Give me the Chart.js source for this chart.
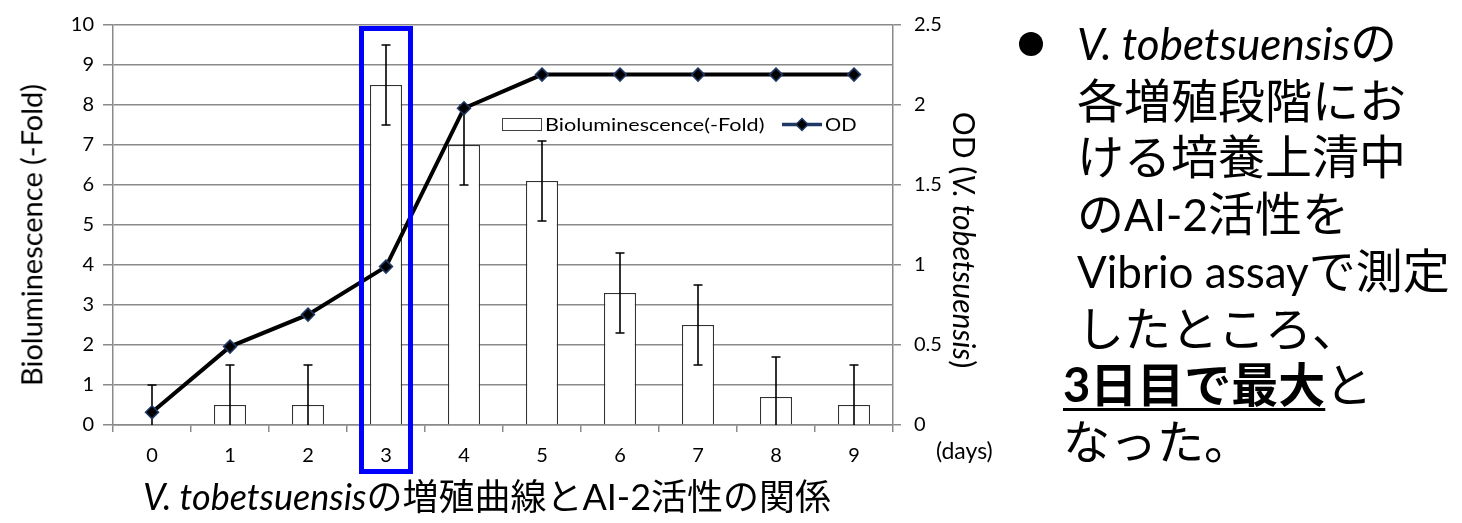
<!DOCTYPE html>
<html>
<head>
<meta charset="utf-8">
<script src="https://cdn.jsdelivr.net/npm/chart.js@4.4.1/dist/chart.umd.min.js"></script>
<style>
  html, body { margin:0; padding:0; background:#fff; overflow:hidden; }
  #wrap { position:relative; width:1462px; height:523px; background:#fff;
          font-family: Lato, "Noto Sans CJK JP", sans-serif; color:#000; }
  #c { position:absolute; left:0; top:0; }
  .t { position:absolute; white-space:nowrap; line-height:1.15; }
  .rot { transform: translate(-50%,-50%) rotate(-90deg); }
  .rotR { transform: translate(-50%,-50%) rotate(90deg); }
  #panel { position:absolute; left:1077px; top:14px; font-size:47px; line-height:56.5px; white-space:nowrap; }
  #panel .lat { font-size:44px; }
  #panel .out { margin-left:-14px; }
  #panel u { text-decoration-thickness:3px; text-underline-offset:6px; }
  #bullet { position:absolute; left:1019px; top:32px; width:24px; height:24px; border-radius:50%; background:#000; }
</style>
</head>
<body>
<div id="wrap">
  <canvas id="c" width="1462" height="523"></canvas>
  <div class="t rot" style="left:31px; top:235px; font-size:29px;">Bioluminescence (-Fold)</div>
  <div class="t rotR" style="left:965px; top:240px; font-size:30px;">OD (<i>V. tobetsuensis</i>)</div>
  <div class="t" style="left:936px; top:437px; font-size:23px;">(days)</div>
  <div class="t" style="left:143px; top:476px; font-size:36px; line-height:40px;"><i>V. tobetsuensis</i>の増殖曲線とAI-2活性の関係</div>
  <div id="bullet"></div>
  <div id="panel">
    <div><i class="lat">V. tobetsuensis</i>の</div>
    <div>各増殖段階にお</div>
    <div>ける培養上清中</div>
    <div>の<span class="lat">AI-2</span>活性を</div>
    <div><span class="lat">Vibrio assay</span>で測定</div>
    <div>したところ、</div>
    <div class="out"><b><u>3日目で最大</u></b>と</div>
    <div class="out">なった。</div>
  </div>
</div>
<script>
// ---- data ----
const days = ['0','1','2','3','4','5','6','7','8','9'];
const bioluminescence = [0, 0.5, 0.5, 8.5, 7.0, 6.1, 3.3, 2.5, 0.7, 0.5];
const bioluminescenceErr = [1, 1, 1, 1, 1, 1, 1, 1, 1, 1];
const od = [0.08, 0.49, 0.69, 0.99, 1.98, 2.19, 2.19, 2.19, 2.19, 2.19];
const leftTicks = [0,1,2,3,4,5,6,7,8,9,10];
const rightTicks = [0,0.5,1,1.5,2,2.5];
const rightTickLabels = ['0','0.5','1','1.5','2','2.5'];
const highlightDay = '3';
const legendLabels = ['Bioluminescence(-Fold)', 'OD'];

Chart.defaults.font.family = "Lato, 'Noto Sans CJK JP', sans-serif";
Chart.defaults.color = '#000';

const GRID = '#8a8a8a';

const errorBars = {
  id: 'errorBars',
  afterDatasetDraw(chart, args) {
    if (args.index !== 0) return;
    const {ctx, chartArea} = chart;
    const y = chart.scales.y;
    const meta = chart.getDatasetMeta(0);
    ctx.save();
    ctx.beginPath();
    ctx.rect(chartArea.left, chartArea.top - 2, chartArea.right - chartArea.left, chartArea.bottom - chartArea.top + 2);
    ctx.clip();
    ctx.strokeStyle = '#000';
    ctx.lineWidth = 1.6;
    meta.data.forEach((bar, i) => {
      const v = bioluminescence[i], e = bioluminescenceErr[i];
      const x = bar.x;
      const yt = y.getPixelForValue(v + e);
      const yb = y.getPixelForValue(v - e);
      ctx.beginPath();
      ctx.moveTo(x, yt); ctx.lineTo(x, yb);
      ctx.moveTo(x - 4.5, yt); ctx.lineTo(x + 4.5, yt);
      ctx.moveTo(x - 4.5, yb); ctx.lineTo(x + 4.5, yb);
      ctx.stroke();
    });
    ctx.restore();
  }
};

const overlay = {
  id: 'overlay',
  afterDraw(chart) {
    const {ctx, chartArea} = chart;
    const xs = chart.scales.x;
    // legend
    const lx = chartArea.left + 389, ly = chartArea.top + 99.5;
    ctx.save();
    ctx.fillStyle = '#fff';
    ctx.strokeStyle = '#404040';
    ctx.lineWidth = 1;
    ctx.fillRect(lx + 0.5, ly - 6, 39, 12);
    ctx.strokeRect(lx + 0.5, ly - 6, 39, 12);
    ctx.fillStyle = '#000';
    ctx.font = "18px Lato, 'Noto Sans CJK JP', sans-serif";
    ctx.textBaseline = 'middle';
    ctx.textAlign = 'left';
    ctx.save();
    ctx.translate(lx + 43, ly + 0.5);
    ctx.scale(1.2, 1);
    ctx.fillText(legendLabels[0], 0, 0);
    ctx.restore();
    // OD legend line + diamond
    const ox = lx + 280;
    ctx.strokeStyle = '#1F3864';
    ctx.lineWidth = 3.5;
    ctx.beginPath(); ctx.moveTo(ox, ly); ctx.lineTo(ox + 40, ly); ctx.stroke();
    ctx.beginPath();
    ctx.moveTo(ox + 20 - 6, ly); ctx.lineTo(ox + 20, ly - 6); ctx.lineTo(ox + 26, ly); ctx.lineTo(ox + 20, ly + 6); ctx.closePath();
    ctx.fillStyle = '#000'; ctx.fill();
    ctx.lineWidth = 1.5; ctx.stroke();
    ctx.save();
    ctx.translate(ox + 43, ly + 0.5);
    ctx.scale(1.12, 1);
    ctx.fillStyle = '#000';
    ctx.fillText(legendLabels[1], 0, 0);
    ctx.restore();
    // highlight box around day 3
    const cx = xs.getPixelForValue(days.indexOf(highlightDay));
    const cw = (chartArea.right - chartArea.left) / days.length;
    const hw = cw * 0.314;
    ctx.strokeStyle = '#0000FF';
    ctx.lineWidth = 5;
    ctx.strokeRect(cx - hw, chartArea.top + 3.5, 2 * hw, chartArea.bottom - chartArea.top + 43);
    ctx.restore();
  }
};

new Chart(document.getElementById('c'), {
  data: {
    labels: days,
    datasets: [
      {
        type: 'bar',
        label: legendLabels[0],
        data: bioluminescence,
        yAxisID: 'y',
        backgroundColor: '#ffffff',
        borderColor: '#303030',
        borderWidth: 1.2,
        borderSkipped: 'start',
        barPercentage: 0.41,
        categoryPercentage: 1.0,
        order: 2
      },
      {
        type: 'line',
        label: legendLabels[1],
        data: od,
        yAxisID: 'y1',
        borderColor: '#000',
        borderWidth: 4,
        tension: 0,
        pointStyle: 'rectRot',
        pointRadius: 6.5,
        pointBackgroundColor: '#000',
        pointBorderColor: '#1F3864',
        pointBorderWidth: 1.5,
        order: 1
      }
    ]
  },
  options: {
    responsive: false,
    animation: false,
    devicePixelRatio: 1,
    layout: { padding: { top: 23, left: 0, right: 0, bottom: 0 } },
    plugins: { legend: { display: false }, tooltip: { enabled: false } },
    scales: {
      x: {
        type: 'category',
        offset: true,
        grid: { display: true, drawOnChartArea: false, drawTicks: true, tickLength: 7, color: GRID, lineWidth: 1.5, offset: true },
        border: { display: true, color: GRID, width: 1.5 },
        ticks: { font: { size: 20 }, color: '#000', padding: 12, maxRotation: 0 },
        afterFit(s) { s.height = 98; }
      },
      y: {
        position: 'left',
        min: leftTicks[0], max: leftTicks[leftTicks.length - 1],
        afterBuildTicks(s) { s.ticks = leftTicks.map(v => ({ value: v })); },
        grid: { color: GRID, lineWidth: 1.5, tickLength: 10 },
        border: { display: true, color: GRID, width: 1.5 },
        ticks: { font: { size: 20 }, color: '#000', padding: 9 },
        afterFit(s) { s.width = 113; }
      },
      y1: {
        position: 'right',
        min: rightTicks[0], max: rightTicks[rightTicks.length - 1],
        afterBuildTicks(s) { s.ticks = rightTicks.map(v => ({ value: v })); },
        grid: { drawOnChartArea: false, color: GRID, lineWidth: 1.5, tickLength: 8 },
        border: { display: true, color: GRID, width: 1.5 },
        ticks: { font: { size: 20 }, color: '#000', padding: 13,
                 callback: (v, i) => rightTickLabels[i] },
        afterFit(s) { s.width = 1462 - 893; }
      }
    }
  },
  plugins: [errorBars, overlay]
});
</script>
</body>
</html>
